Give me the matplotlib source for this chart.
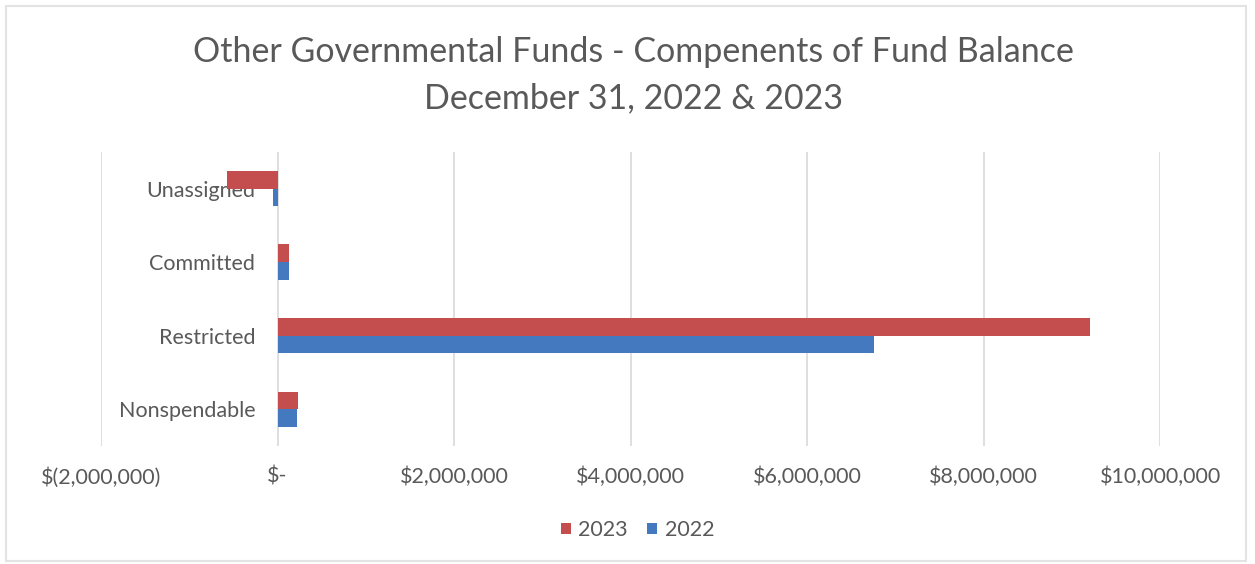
import matplotlib.pyplot as plt
from matplotlib.patches import Rectangle

categories = ["Nonspendable", "Restricted", "Committed", "Unassigned"]
values_2023 = [232000, 9200000, 131000, -575000]
values_2022 = [221000, 6755000, 131000, -56000]

tick_values = [-2000000, 0, 2000000, 4000000, 6000000, 8000000, 10000000]
tick_labels = ["$(2,000,000)", "$-", "$2,000,000", "$4,000,000",
               "$6,000,000", "$8,000,000", "$10,000,000"]

RED = "#C44D4D"
BLUE = "#4479C0"
TEXT = "#595959"
GRID = "#D9D9D9"
BAR_H = 0.24

plt.rcParams["font.family"] = ["Lato", "DejaVu Sans"]

fig = plt.figure(figsize=(12.55, 5.64), dpi=100)
ax = fig.add_axes([0.0805, 0.209, 0.844, 0.522])

ypos = range(len(categories))
ax.barh([y + BAR_H / 2 for y in ypos], values_2023, height=BAR_H,
        color=RED, label="2023", zorder=2)
ax.barh([y - BAR_H / 2 for y in ypos], values_2022, height=BAR_H,
        color=BLUE, label="2022", zorder=2)

ax.set_xlim(-2000000, 10000000)
ax.set_ylim(-0.5, len(categories) - 0.5)
ax.set_xticks(tick_values)
ax.set_xticklabels(tick_labels)
ax.set_yticks(list(ypos))
ax.set_yticklabels(categories)

# category axis sits at zero, labels left of it
ax.spines["left"].set_position(("data", 0))
for side in ["left", "right", "top", "bottom"]:
    ax.spines[side].set_visible(False)

ax.set_axisbelow(True)
ax.grid(axis="x", color=GRID, linewidth=1.2)
ax.tick_params(axis="x", length=0, pad=15, labelsize=15.5, labelcolor=TEXT)
ax.tick_params(axis="y", length=0, pad=16, labelsize=15.5, labelcolor=TEXT)

fig.text(0.505, 0.908, "Other Governmental Funds - Compenents of Fund Balance",
         ha="center", va="center", fontsize=24.5, color=TEXT)
fig.text(0.505, 0.826, "December 31, 2022 & 2023",
         ha="center", va="center", fontsize=24.5, color=TEXT)

leg = fig.legend(loc="center", bbox_to_anchor=(0.508, 0.06), ncol=2,
                 frameon=False, fontsize=15.5, handlelength=0.45,
                 handleheight=0.45, handletextpad=0.35, columnspacing=0.9)
for t in leg.get_texts():
    t.set_color(TEXT)

fig.patches.append(Rectangle((0.005, 0.006), 0.988, 0.984,
                             transform=fig.transFigure, fill=False,
                             edgecolor="#E3E3E3", linewidth=1.5))

fig.savefig("out.png", dpi=100)
